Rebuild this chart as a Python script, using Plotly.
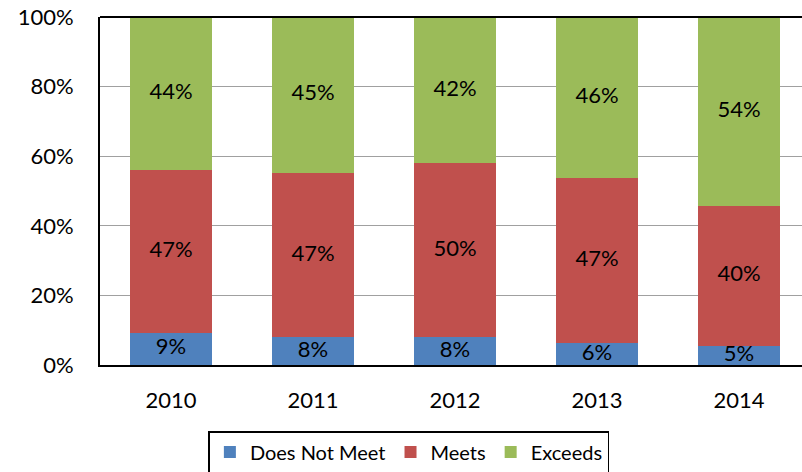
import plotly.graph_objects as go

years = ["2010", "2011", "2012", "2013", "2014"]
does_not_meet = [9.2, 8.0, 8.0, 6.3, 5.4]
meets = [46.8, 47.2, 50.0, 47.3, 40.4]
exceeds = [44.0, 44.8, 42.0, 46.4, 54.2]
y_ticks = [0, 20, 40, 60, 80, 100]
y_tick_labels = ["0%", "20%", "40%", "60%", "80%", "100%"]

series = [
    ("Does Not Meet", does_not_meet, "#4F81BD"),
    ("Meets", meets, "#C0504D"),
    ("Exceeds", exceeds, "#9BBB59"),
]

FONT = "Lato"
fig = go.Figure()
base = [0.0] * len(years)
for name, vals, color in series:
    fig.add_trace(go.Bar(
        x=years, y=vals, name=name, marker=dict(color=color, line=dict(width=0)),
        width=0.58, hoverinfo="y+name",
    ))
    mids = [b + v / 2 for b, v in zip(base, vals)]
    fig.add_trace(go.Scatter(
        x=years, y=mids, mode="text", text=[f"{round(v)}%" for v in vals],
        textfont=dict(family=FONT, size=22, color="#000000"), showlegend=False,
        hoverinfo="skip",
    ))
    base = [b + v for b, v in zip(base, vals)]

fig.update_layout(
    barmode="stack",
    width=802, height=472,
    margin=dict(l=100, r=0, t=17, b=107, autoexpand=False),
    paper_bgcolor="white", plot_bgcolor="white",
    font=dict(family=FONT, size=22, color="#000000"),
    showlegend=True,
    legend=dict(
        orientation="h", x=0.44, xanchor="center", y=-0.25, yanchor="middle",
        bordercolor="#000000", borderwidth=1.5, font=dict(family=FONT, size=20),
        traceorder="normal",
    ),
    xaxis=dict(
        type="category", range=[-0.5, 4.444], showline=True, linecolor="#000000",
        linewidth=2, showgrid=False, ticks="", ticklabelstandoff=15,
        tickfont=dict(family=FONT, size=22),
    ),
    yaxis=dict(
        range=[0, 100], tickvals=y_ticks, ticktext=y_tick_labels,
        showline=True, linecolor="#000000", linewidth=2,
        showgrid=True, gridcolor="#A0A0A0", gridwidth=1.2, ticks="",
        ticklabelstandoff=20, zeroline=False, ticklabeloverflow="allow",
        tickfont=dict(family=FONT, size=22),
    ),
    shapes=[dict(type="line", xref="paper", yref="paper", x0=0, x1=1, y0=1, y1=1,
                 line=dict(color="#000000", width=2))],
)

fig.write_html("out.html", config={"displayModeBar": False},
               post_script="document.body.style.margin='0';")
